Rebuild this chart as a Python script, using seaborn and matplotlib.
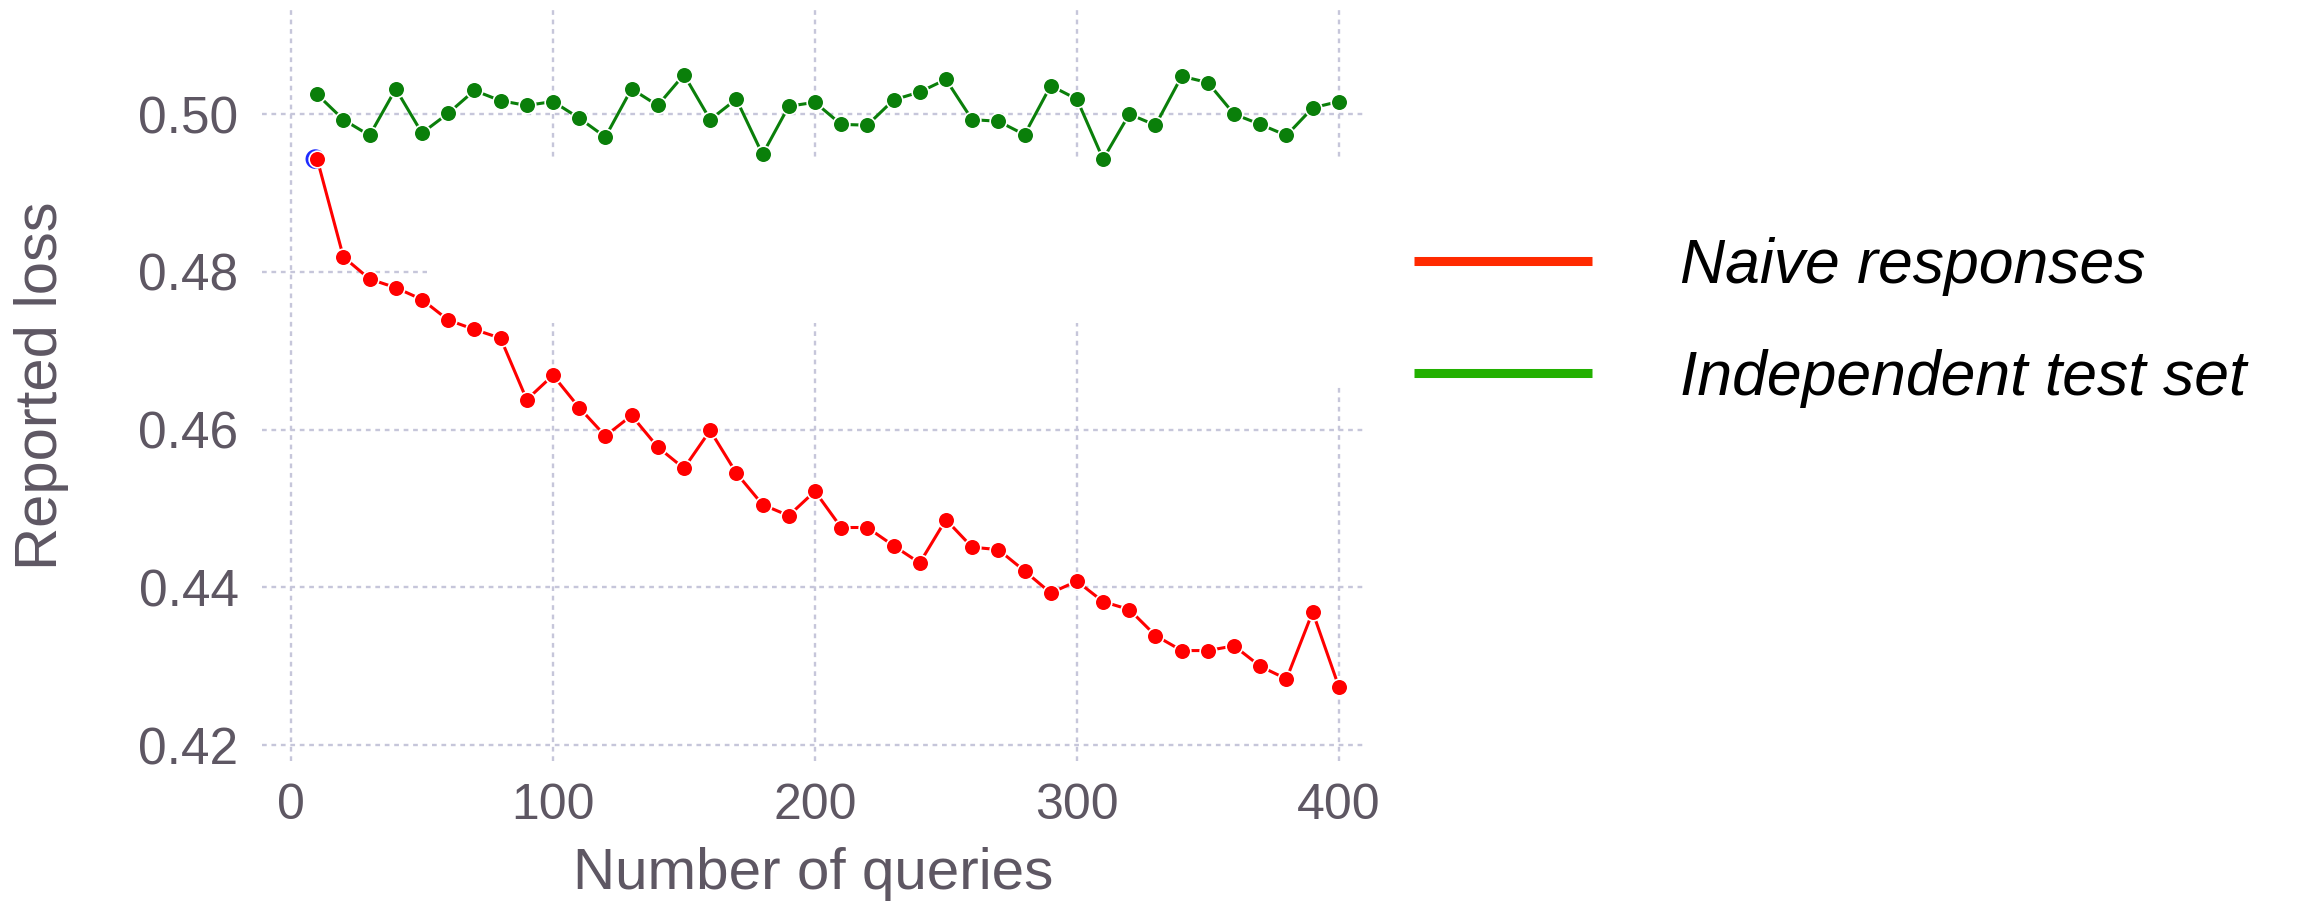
import pandas as pd
import matplotlib
matplotlib.use('Agg')
import matplotlib.pyplot as plt
import seaborn as sns
from matplotlib.lines import Line2D
from matplotlib.patches import Rectangle
from matplotlib.ticker import FormatStrFormatter

queries = [10, 20, 30, 40, 50, 60, 70, 80, 90, 100,
           110, 120, 130, 140, 150, 160, 170, 180, 190, 200,
           210, 220, 230, 240, 250, 260, 270, 280, 290, 300,
           310, 320, 330, 340, 350, 360, 370, 380, 390, 400]
naive_loss = [0.4943, 0.4819, 0.4791, 0.4780, 0.4765, 0.4739, 0.4727, 0.4716, 0.4638, 0.4669,
              0.4628, 0.4592, 0.4618, 0.4578, 0.4551, 0.4599, 0.4545, 0.4505, 0.4491, 0.4522,
              0.4476, 0.4476, 0.4453, 0.4431, 0.4486, 0.4451, 0.4448, 0.4421, 0.4393, 0.4408,
              0.4382, 0.4372, 0.4339, 0.4320, 0.4320, 0.4326, 0.4300, 0.4284, 0.4369, 0.4274]
test_loss = [0.5025, 0.4993, 0.4973, 0.5032, 0.4976, 0.5001, 0.5030, 0.5017, 0.5011, 0.5016,
             0.4995, 0.4971, 0.5032, 0.5011, 0.5050, 0.4993, 0.5019, 0.4949, 0.5010, 0.5015,
             0.4987, 0.4986, 0.5018, 0.5028, 0.5044, 0.4993, 0.4991, 0.4974, 0.5036, 0.5019,
             0.4943, 0.5000, 0.4986, 0.5048, 0.5040, 0.5000, 0.4987, 0.4973, 0.5008, 0.5016]
start_query = [9.3]
start_loss = [0.4943]
series_names = ['Naive responses', 'Independent test set']
x_ticks = [0, 100, 200, 300, 400]
y_ticks = [0.42, 0.44, 0.46, 0.48, 0.50]

df = pd.DataFrame({
    'queries': queries + queries,
    'loss': naive_loss + test_loss,
    'series': [series_names[0]] * len(queries) + [series_names[1]] * len(queries),
})

sns.set_style('white')
plt.rcParams['font.family'] = ['Liberation Sans', 'DejaVu Sans']
tick_col = '#5e5763'

fig = plt.figure(figsize=(23.18, 9.09), dpi=100)
ax = fig.add_axes([0.1131, 0.1628, 0.4758, 0.8262])

ax.grid(True, color='#c6c6da', linestyle=(0, (2, 2)), linewidth=1.7)
# white cut-out over the grid, as in the original figure
ax.add_patch(Rectangle((52, 0.4735), 360, 0.0208, facecolor='white', edgecolor='none', zorder=1))
ax.add_patch(Rectangle((395, 0.4656), 17, 0.0238, facecolor='white', edgecolor='none', zorder=1))

sns.scatterplot(x=start_query, y=start_loss, color='#1f2cff', s=200, edgecolor='none', ax=ax, zorder=2)
sns.lineplot(data=df, x='queries', y='loss', hue='series',
             palette={series_names[0]: '#ff0000', series_names[1]: '#0a7f0a'},
             marker='o', markersize=12, markeredgecolor='white', markeredgewidth=1.2,
             linewidth=2.2, legend=False, ax=ax, zorder=3)

ax.set_xlim(-11, 410)
ax.set_ylim(0.418, 0.5132)
ax.set_xticks(x_ticks)
ax.set_yticks(y_ticks)
ax.yaxis.set_major_formatter(FormatStrFormatter('%.2f'))
ax.tick_params(axis='y', length=0, labelsize=37, colors=tick_col, pad=17)
ax.tick_params(axis='x', length=0, labelsize=36, colors=tick_col, pad=16)
for s in ax.spines.values():
    s.set_visible(False)

ax.set_xlabel('Number of queries', fontsize=42, color=tick_col)
ax.set_ylabel('Reported loss', fontsize=43, color=tick_col)
ax.xaxis.label.set_va('center')
ax.yaxis.label.set_va('center')
ax.xaxis.set_label_coords(0.5, -0.15)
ax.yaxis.set_label_coords(-0.2, 0.5)

handles = [Line2D([0], [0], color='#ff2a00', linewidth=6.5, solid_capstyle='butt'),
           Line2D([0], [0], color='#22b000', linewidth=6.5, solid_capstyle='butt')]
leg = fig.legend(handles, series_names, loc='center left', bbox_to_anchor=(0.61, 0.645),
                 frameon=False, prop={'style': 'italic', 'size': 45},
                 handlelength=2.85, handletextpad=1.4, labelspacing=0.85,
                 borderpad=0, borderaxespad=0)
for t in leg.get_texts():
    t.set_color('black')

fig.savefig('out.png', dpi=100)
